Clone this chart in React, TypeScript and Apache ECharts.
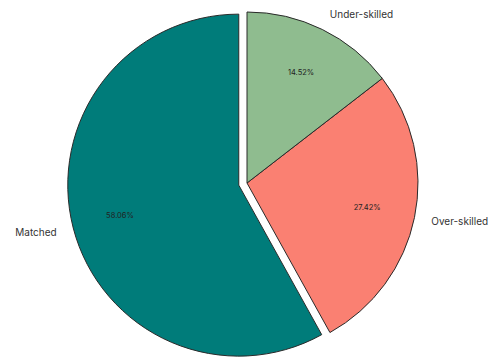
import React, { useEffect, useRef } from "react";
import * as echarts from "echarts";

const categories = ["Matched", "Over-skilled", "Under-skilled"];
const values = [58.06, 27.42, 14.52];
const colors = ["#007c7a", "#fa8072", "#8fbc8f"];
const exploded = [true, false, false];

export default function App() {
  const ref = useRef<HTMLDivElement>(null);
  useEffect(() => {
    document.body.style.margin = "0";
    const chart = echarts.init(ref.current!, null, { renderer: "svg" });
    const cx = 247;
    const cy = 183;
    const r = 171;
    const offset = 8.5;
    const baseData = categories.map((name, i) => ({
      name,
      value: values[i],
      selected: exploded[i],
    }));
    chart.setOption({
      animation: false,
      backgroundColor: "#ffffff",
      series: [
        {
          type: "pie",
          center: [cx, cy],
          radius: [0, r],
          startAngle: 90,
          clockwise: false,
          selectedMode: "multiple",
          selectedOffset: offset,
          avoidLabelOverlap: false,
          silent: true,
          percentPrecision: 2,
          data: baseData.map((d, i) => ({
            ...d,
            itemStyle: { color: colors[i], borderColor: "#2a2a2a", borderWidth: 1 },
          })),
          label: {
            show: true,
            position: "outside",
            formatter: "{b}",
            fontFamily: "Inter",
            fontSize: 10,
            color: "#333333",
            distanceToLabelLine: 0,
          },
          labelLine: { show: false, length: r * 0.1, length2: 0 },
          emphasis: { disabled: true },
        },
        {
          type: "pie",
          center: [cx, cy],
          radius: [0, r * 1.4],
          startAngle: 90,
          clockwise: false,
          selectedMode: "multiple",
          selectedOffset: offset,
          silent: true,
          percentPrecision: 2,
          z: 5,
          data: baseData.map((d) => ({
            ...d,
            itemStyle: { color: "rgba(0,0,0,0)", borderWidth: 0 },
          })),
          label: {
            show: true,
            position: "inside",
            formatter: "{d}%",
            fontFamily: "Inter",
            fontSize: 7.5,
            color: "#222222",
          },
          labelLine: { show: false },
          emphasis: { disabled: true },
        },
      ],
    });
    return () => chart.dispose();
  }, []);
  return <div ref={ref} style={{ width: 491, height: 358 }} />;
}
